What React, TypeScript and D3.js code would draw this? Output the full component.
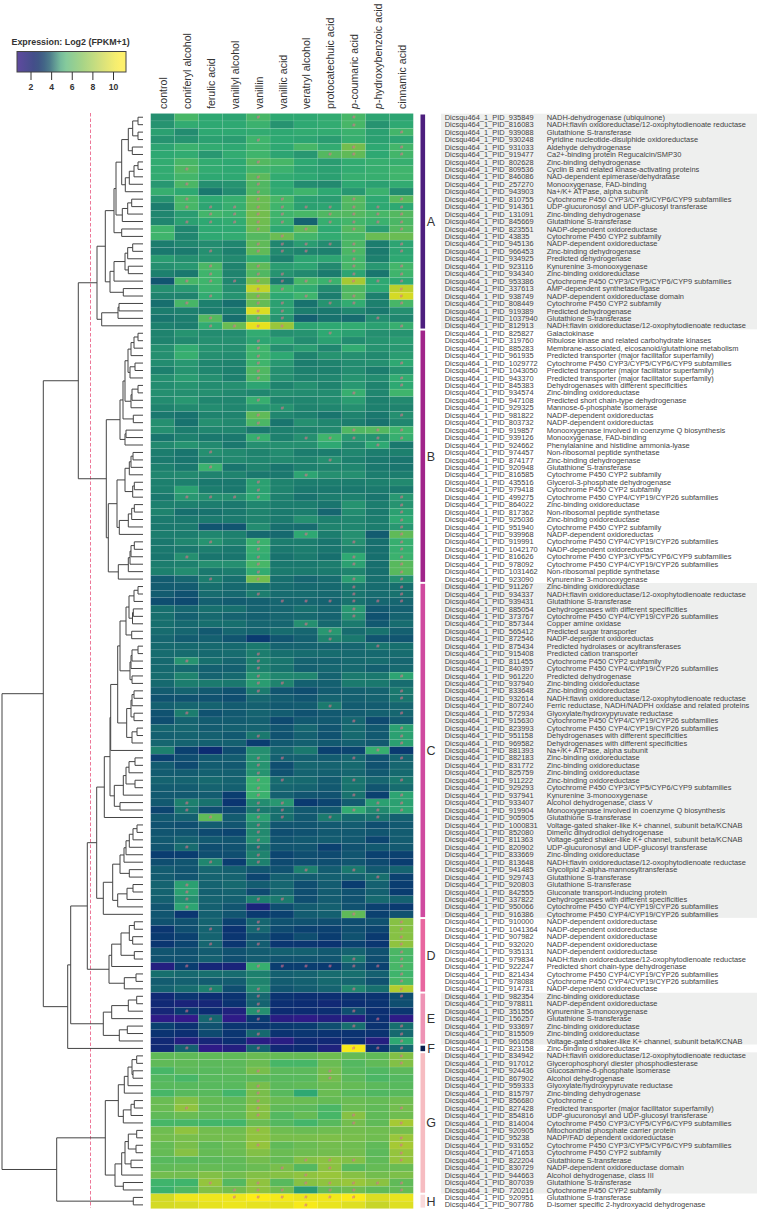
import React from "react";
import * as d3 from "d3";

const treatments = ["control", "coniferyl alcohol", "ferulic acid", "vanillyl alcohol", "vanillin", "vanillic acid", "veratryl alcohol", "protocatechuic acid", "p-coumaric acid", "p-hydroxybenzoic acid", "cinnamic acid"];
const groups = ["A", "B", "C", "D", "E", "F", "G", "H"];
const groupColors = ["#4d1f7e", "#a0248a", "#cf4a9f", "#e8669f", "#ee93b5", "#0b1f4f", "#f6bcc1", "#fadadb"];
const legendTicks = [2, 4, 6, 8, 10];

const geneIdsA = ["935849", "816083", "939088", "930248", "931033", "919477", "802628", "809536", "846086", "257270", "943903", "810755", "914361", "131091", "845669", "823551", "43835", "945136", "966453", "934925", "923116", "934340", "953386", "337613", "938749", "808449", "919389", "1037940", "812913"];
const geneIdsB = ["825827", "319760", "885283", "961935", "1029772", "1043050", "943370", "845383", "934574", "947108", "929325", "981822", "803732", "919857", "939126", "924662", "974457", "874177", "920948", "816585", "435516", "979418", "499275", "864022", "817362", "925036", "951940", "939968", "919991", "1042170", "816626", "978092", "1031462", "923090"];
const geneIdsC = ["911267", "934337", "939431", "885054", "373767", "857344", "565412", "872546", "875434", "915408", "811455", "840397", "961220", "937940", "833648", "932614", "807240", "572934", "915630", "823993", "951158", "969582", "881393", "882183", "831772", "825759", "911222", "929293", "937941", "933407", "919904", "905905", "1000831", "852080", "811363", "820902", "833669", "813648", "941485", "929743", "920803", "842555", "337822", "950066", "916386"];
const geneIdsD = ["910000", "1041364", "907982", "932020", "935131", "979834", "922247", "821434", "978088", "914731"];
const geneIdsE = ["982354", "978811", "351556", "156257", "933697", "815509", "961058"];
const geneIdsF = ["823158"];
const geneIdsG = ["834942", "917012", "924436", "867902", "959333", "815797", "856680", "827428", "854816", "814004", "920905", "95238", "931652", "471653", "822204", "830729", "944663", "807039", "720216"];
const geneIdsH = ["920951", "907786"];

const NADH = "NADH:flavin oxidoreductase/12-oxophytodienoate reductase";
const CYP3 = "Cytochrome P450 CYP3/CYP5/CYP6/CYP9 subfamilies";
const CYP4 = "Cytochrome P450 CYP4/CYP19/CYP26 subfamilies";
const CYP2 = "Cytochrome P450 CYP2 subfamily";
const ZBO = "Zinc-binding oxidoreductase";
const ZBD = "Zinc-binding dehydrogenase";
const GST = "Glutathione S-transferase";
const NADP = "NADP-dependent oxidoreductase";
const NADPS = "NADP-dependent oxidoreductas";
const UDP = "UDP-glucuronosyl and UDP-glucosyl transferase";
const DDS = "Dehydrogenases with different specificities";
const MFS = "Predicted transporter (major facilitator superfamily)";
const KCN = "Voltage-gated shaker-like K+ channel, subunit beta/KCNAB";

const geneNamesA = ["NADH-dehydrogenase (ubiquinone)", NADH, GST, "Pyridine nucleotide-disulphide oxidoreductase", "Aldehyde dehydrogenase", "Ca2+-binding protein Regucalcin/SMP30", ZBD, "Cyclin B and related kinase-activating proteins", "NAD-dependent epimerase/dehydratase", "Monooxygenase, FAD-binding", "Na+/K+ ATPase, alpha subunit", CYP3, UDP, ZBD, GST, NADP, CYP2, NADP, ZBD, "Predicted dehydrogenase", "Kynurenine 3-monooxygenase", ZBO, CYP3, "AMP-dependent synthetase/ligase", "NADP-dependent oxidoreductase domain", CYP2, "Predicted dehydrogenase", GST, NADH];
const geneNamesB = ["Galactokinase", "Ribulose kinase and related carbohydrate kinases", "Membrane-associated, eicosanoid/glutathione metabolism", MFS, CYP3, MFS, MFS, DDS, ZBO, "Predicted short chain-type dehydrogenase", "Mannose-6-phosphate isomerase", NADPS, NADPS, "Monooxygenase involved in coenzyme Q biosynthesis", "Monooxygenase, FAD-binding", "Phenylalanine and histidine ammonia-lyase", "Non-ribosomal peptide synthetase", ZBD, GST, CYP2, "Glycerol-3-phosphate dehydrogenase", CYP2, CYP4, ZBO, "Non-ribosomal peptide synthetase", ZBO, CYP2, NADPS, CYP4, NADPS, CYP3, CYP4, "Non-ribosomal peptide synthetase", "Kynurenine 3-monooxygenase"];
const geneNamesC = [ZBO, NADH, GST, DDS, CYP4, "Copper amine oxidase", "Predicted sugar transporter", NADPS, "Predicted hydrolases or acyltransferases", "Predicted cation transporter", CYP2, CYP4, "Predicted dehydrogenase", ZBO, ZBO, NADH, "Ferric reductase, NADH/NADPH oxidase and related proteins", "Glyoxylate/hydroxypyruvate reductase", CYP4, CYP4, DDS, DDS, "Na+/K+ ATPase, alpha subunit", ZBO, ZBO, ZBO, ZBO, CYP3, "Kynurenine 3-monooxygenase", "Alcohol dehydrogenase, class V", "Monooxygenase involved in coenzyme Q biosynthesis", GST, KCN, "Dimeric dihydrodiol dehydrogenase", KCN, UDP, ZBO, NADH, "Glycolipid 2-alpha-mannosyltransferase", GST, GST, "Gluconate transport-inducing protein", DDS, CYP4, CYP4];
const geneNamesD = [NADP, NADP, NADP, NADP, NADP, NADH, "Predicted short chain-type dehydrogenase", CYP4, CYP4, NADP];
const geneNamesE = [ZBO, NADP, "Kynurenine 3-monooxygenase", GST, ZBO, ZBO, KCN];
const geneNamesF = [ZBO];
const geneNamesG = [NADH, "Glycerophosphoryl diester phosphodiesterase", "Glucosamine-6-phosphate isomerase", "Alcohol dehydrogenase", "Glyoxylate/hydroxypyruvate reductase", ZBD, "Cytochrome c", MFS, UDP, CYP3, "Mitochondrial phosphate carrier protein", "NADP/FAD dependent oxidoreductase", CYP3, CYP2, GST, "NADP-dependent oxidoreductase domain", "Alcohol dehydrogenase, class III", GST, CYP2];
const geneNamesH = [GST, "D-isomer specific 2-hydroxyacid dehydrogenase"];

// log2(FPKM+1), one row per gene
const valuesA = [
  [5, 6.2, 5.6, 5.5, 6.2, 5.6, 5.6, 5.7, 6.2, 5.5, 5.5],
  [5.1, 5.7, 5.6, 5.6, 5.9, 5.1, 5.6, 5.7, 6.2, 5.1, 5.6],
  [5.4, 4.9, 5.6, 5.6, 5.7, 5.6, 5.7, 5.7, 5.9, 5.4, 6.1],
  [5.1, 5.1, 5.4, 5.3, 6, 5.6, 5.5, 5.3, 5.8, 5.4, 5.5],
  [5.5, 5.9, 5.7, 5.6, 6, 5.6, 6.2, 5.7, 7.2, 5.6, 6.1],
  [5.6, 5.7, 5.2, 5.7, 6, 5.5, 5.2, 6.5, 6.8, 5.6, 6.1],
  [5.7, 6.2, 5.7, 5.6, 6.5, 6.2, 5.6, 5.3, 5.7, 5.8, 5.8],
  [5.7, 6.4, 5.7, 5.6, 6.1, 5.9, 5.5, 5.4, 5.7, 5.8, 6],
  [5.7, 6.1, 5.6, 5.6, 6.7, 5.7, 5.6, 5.4, 5.8, 5.8, 6],
  [5.2, 6.3, 5, 5.1, 6.4, 5.6, 4.9, 4.8, 5.6, 5.4, 5.7],
  [5.8, 5.6, 4.2, 4.9, 6.4, 5.7, 6, 5.6, 5.2, 5.9, 4.9],
  [5.1, 6.2, 5.6, 5.8, 7, 6.2, 5.4, 5.3, 6.5, 5.6, 6.6],
  [4.4, 6.2, 5.5, 5.8, 7, 6, 5.4, 5.5, 6.4, 5.6, 5.6],
  [4.7, 5.3, 6.1, 5.9, 7.2, 6, 6.2, 6.4, 6.5, 6.2, 6.5],
  [4.7, 5.4, 5.6, 5.7, 7.1, 5.9, 3.5, 5.8, 6.1, 5.9, 6.3],
  [6, 4.7, 5.6, 5.6, 7, 5.6, 6.8, 5.6, 6.5, 5.3, 6.5],
  [6, 4.7, 5.6, 5.7, 6.5, 7, 6.1, 5.7, 6.2, 7, 7],
  [4.4, 4.7, 4.9, 4.7, 6.8, 4.7, 5.3, 4.9, 6.3, 4.4, 5.5],
  [4.2, 4.3, 5, 4.5, 6.8, 4.8, 4.6, 4.5, 6.3, 4.3, 5.5],
  [5.3, 5, 5.1, 4.8, 5.7, 4.5, 5.5, 5.5, 6.1, 4.5, 5.6],
  [5, 5.2, 6.3, 4.6, 6.8, 5.3, 5.5, 4.8, 6.2, 5.2, 6.1],
  [4.5, 4.2, 6, 4.6, 6.4, 5.1, 4.8, 4.3, 5.5, 4.1, 6],
  [3.1, 6.2, 6, 4.7, 7.3, 4.3, 6.2, 5.9, 8.3, 5.6, 5.6],
  [5, 5.2, 5.9, 5, 9, 6, 5.7, 4.8, 6.4, 5.6, 8.8],
  [4.6, 4.6, 5.7, 5.1, 7.2, 5.6, 6, 4.4, 6.5, 4.5, 9.4],
  [3.9, 6.2, 4.5, 3.9, 6.9, 5.4, 4, 5.1, 5.7, 4.5, 6.2],
  [4.4, 4.5, 4.4, 4.4, 9.6, 5.4, 4.4, 4.2, 4.7, 4.2, 5],
  [4.1, 4.4, 6.5, 3.9, 6.6, 5.1, 3.4, 4, 3.8, 4.9, 4.7],
  [4.5, 4.4, 5.7, 7, 10, 8, 5.5, 5.6, 5.7, 5.4, 5.8],
];
const valuesB = [
  [4.6, 5.1, 4.9, 4.9, 5.7, 5, 5.1, 5.6, 5.4, 5, 5.1],
  [4.6, 4.8, 5, 5, 5.5, 5.5, 4.9, 5.4, 4.9, 5.1, 5.3],
  [5, 5.7, 5.1, 5, 6, 5, 5.3, 4.7, 5.7, 5.1, 5.2],
  [5, 5.8, 5, 4.9, 6, 5.6, 4.6, 5.1, 5, 4.8, 5.3],
  [4.9, 5.2, 4.7, 4.6, 6, 5.2, 4.4, 4.6, 4.9, 5, 5.6],
  [4.5, 5.1, 4.7, 4.5, 6.4, 5, 4.5, 4.5, 4.9, 4.4, 5.1],
  [5, 5.3, 5, 4.5, 6.3, 5, 4.6, 4.7, 5.1, 4.9, 5.7],
  [4.9, 5.1, 4.9, 5, 5.5, 4.6, 5, 4.6, 5.2, 4.6, 5.6],
  [5, 5, 5, 4.8, 4.7, 5, 4.9, 4.9, 5.8, 4.7, 6],
  [4.9, 5.2, 4.7, 4.7, 5.8, 4.7, 4.7, 4.9, 5.3, 4.5, 4.8],
  [4.6, 4.8, 4.9, 4.7, 5.2, 5.1, 4.6, 4.7, 5, 4.5, 4.6],
  [4.2, 4, 4.6, 4.6, 6.8, 4.7, 4.5, 4.1, 4.6, 4.2, 5],
  [5, 4, 5, 4.8, 6.3, 4.1, 5, 4.7, 4.4, 4, 4.7],
  [5, 4.4, 4.7, 4.7, 4.2, 4.5, 4.6, 4.8, 6.4, 6.5, 6],
  [4.1, 4.5, 4.2, 4.2, 5.8, 4.5, 5, 6, 5.2, 5.1, 5.8],
  [4.8, 5.1, 4.8, 4.2, 5, 5, 5, 5.6, 4.8, 5.6, 4.2],
  [4.4, 4.1, 5, 4.8, 4.6, 4.9, 4.4, 4.4, 4.7, 4.4, 4.5],
  [4.3, 4.1, 4.6, 4.8, 4.7, 4.8, 4.6, 5, 4.5, 4.2, 4.1],
  [4.5, 4.2, 5.9, 4.1, 4.6, 4.1, 4.5, 4.6, 4.7, 4.2, 4.1],
  [4.7, 4.8, 4.6, 4.6, 4.2, 4.2, 5.5, 5, 5, 4.4, 4.4],
  [4.5, 4.5, 4.2, 4.2, 5.4, 4.6, 4.4, 4.4, 4.4, 4.5, 4.8],
  [4.5, 5.4, 4.4, 4.2, 5.4, 4.6, 4.2, 4.2, 4.2, 4.3, 4.3],
  [4.2, 5.2, 5, 5, 5.6, 4.5, 4, 4.4, 4.5, 4.1, 5.2],
  [4.5, 4.5, 4.4, 4.2, 4.7, 4.4, 4.4, 4.1, 5.1, 4.4, 5.1],
  [4.6, 3.9, 4, 4.2, 4.6, 4.3, 4.4, 3.6, 4.9, 4.3, 5.4],
  [4.3, 4.2, 4.3, 4.3, 4.6, 4.3, 5, 4.5, 4.7, 4.4, 5.6],
  [4.2, 4.3, 3.1, 3.1, 4.9, 3.9, 3.8, 4.6, 4.7, 4.4, 5.2],
  [4.4, 4.4, 4.7, 4.5, 3.7, 3.7, 5.6, 4.4, 5, 3.3, 6.8],
  [4.2, 4.7, 5.1, 4.6, 5.9, 4.4, 4.4, 4.1, 5, 3.9, 5.8],
  [4.2, 4.2, 4.4, 4.2, 5.8, 4.2, 4.4, 4.1, 4.6, 3.9, 5.8],
  [4.1, 5, 4.1, 4.1, 5.7, 4, 4.3, 3.9, 5.6, 3.9, 5.9],
  [4.4, 4.5, 5, 5, 6.2, 4.2, 4.2, 4.4, 5.4, 3.9, 6.6],
  [4.5, 4.9, 4.2, 4.4, 5.7, 4.3, 4.3, 4.3, 4.6, 3.9, 6.6],
  [3.3, 3.6, 4.4, 3.9, 7.2, 3.9, 3.6, 3.8, 5.3, 3.9, 5],
];
const valuesC = [
  [3.3, 3.3, 3.9, 3.7, 4, 3.8, 3.7, 3.7, 4.2, 3.8, 3.9],
  [3.3, 3, 3.8, 3.7, 4.4, 3.8, 3.8, 3.7, 4.1, 3.8, 4],
  [2.9, 2.8, 3.4, 3.3, 3.4, 3.6, 3.6, 3.5, 4, 3.6, 3.6],
  [3.9, 3.6, 3.9, 3.9, 3.5, 3.6, 3.9, 3.6, 5.2, 3.2, 3.4],
  [3.9, 3.4, 3.7, 3.5, 3.4, 3.6, 3.7, 3.5, 5, 3, 3.5],
  [3.9, 3.7, 3.9, 3.9, 3.6, 3.6, 5, 3.7, 4.3, 3.2, 3.8],
  [3.8, 3.6, 3.2, 3.6, 3.5, 3.8, 3.6, 5.2, 3.8, 4, 3.4],
  [3.6, 3.3, 3.4, 3.1, 2.4, 3.1, 3.4, 4.6, 4.2, 3.1, 3.1],
  [3.7, 3.7, 3.7, 3.7, 4.2, 3.5, 3.5, 3.5, 3.6, 4.1, 3.9],
  [3.8, 3.8, 3.7, 3.8, 4.4, 3.9, 3.8, 3.8, 3.7, 3.7, 3.8],
  [3.7, 5.1, 3.9, 3.6, 4.5, 4.1, 3.5, 3.5, 3.7, 3.8, 3.6],
  [3.7, 3.7, 3.4, 3.4, 4.5, 4, 3.4, 3.6, 3.7, 3.4, 3.7],
  [3.8, 4.6, 3.5, 3.7, 5.2, 4.7, 4.7, 3.5, 4.3, 4.2, 5.5],
  [3.7, 4.4, 4.3, 4.2, 5.3, 4.6, 3.4, 3.4, 4.3, 4.2, 3.8],
  [3.3, 3.5, 3.2, 3, 4.3, 3.1, 2.9, 3.3, 3.4, 3.5, 4.2],
  [3, 3, 3, 2.9, 3.6, 3.3, 3.1, 3.5, 3.4, 3.5, 4.1],
  [3.4, 3.6, 3.5, 3.3, 3.4, 3.2, 3.3, 4.3, 3.3, 3.3, 3.6],
  [3, 4.4, 3, 3.2, 3.5, 3.3, 3, 3.2, 3.3, 3.4, 3.6],
  [2.9, 3.5, 3.3, 3.3, 3.4, 2.8, 3.2, 3.2, 3.6, 2.8, 3.3],
  [3.6, 3.6, 3.3, 3.4, 3.5, 3.1, 3.6, 3.1, 3.7, 3.2, 5.4],
  [3.4, 3.5, 3.4, 3.2, 4.2, 3, 3.4, 3, 3.7, 3.2, 5.4],
  [3.6, 3.5, 3.4, 3.4, 2.5, 3.2, 3.4, 3.2, 3.4, 3.2, 5.4],
  [4.5, 2.6, 2, 2.9, 5, 3.6, 4.2, 2.6, 2.7, 5.8, 2.4],
  [2.6, 2.9, 3.2, 3.3, 5.1, 3.4, 3.4, 3.3, 3.6, 3, 3.5],
  [3.3, 2.8, 3.3, 3.2, 5.1, 2.9, 3.6, 3.5, 3.7, 3, 3.6],
  [3.3, 3.3, 3.4, 3.4, 5.1, 3, 3.5, 3.4, 3.6, 3.2, 3.7],
  [3.5, 3.5, 3.7, 3.5, 5.9, 3.8, 3.7, 3.3, 4.1, 3.6, 4.2],
  [3.3, 3.3, 3.5, 3.4, 5.9, 3.6, 3.5, 3.2, 4, 3.1, 3.8],
  [3.2, 3.2, 3.3, 2.5, 5.9, 3.4, 3.1, 3, 4, 2.6, 5.5],
  [3.2, 4.5, 4, 2.3, 4.9, 5.2, 2.4, 2.7, 3.3, 5.4, 5.4],
  [2.7, 4, 2.9, 2.8, 4.2, 3.9, 3.2, 3.2, 5.7, 4.8, 5.5],
  [3.2, 3.4, 6.8, 3.3, 5.4, 3.9, 3.2, 4.3, 3.7, 4, 3.4],
  [3, 2.9, 3.3, 3.1, 4.8, 3.1, 3.1, 3.2, 3.3, 2.9, 3.2],
  [3.1, 3.1, 2.8, 2.7, 4.8, 2.9, 3, 3.2, 3.2, 3.1, 3.3],
  [3.2, 3.4, 3.2, 3.1, 5, 3.1, 3.2, 3.3, 3.2, 2.7, 3.3],
  [3.1, 3.8, 2.9, 3, 4.1, 3.1, 3.1, 2.6, 3, 3.2, 3.2],
  [2.5, 2.5, 2.9, 2.9, 4.6, 2.7, 2.9, 2.8, 3.1, 2.6, 2.6],
  [2.9, 3.1, 4.7, 2.5, 4.5, 2.8, 2.9, 2.9, 3.1, 2.8, 2.5],
  [3.3, 3.1, 3.6, 3.4, 3.1, 3, 4.5, 3.3, 4.2, 3.2, 3.5],
  [3.3, 3.1, 3.5, 3.5, 2.7, 3.4, 3.3, 3.4, 3.4, 3.9, 2.6],
  [3.5, 5.4, 3.5, 3.7, 3.3, 3.6, 2.9, 3.3, 2.5, 3.4, 2.5],
  [3.5, 5.4, 3.4, 3.5, 2.8, 3.6, 2.9, 3.3, 3, 3.4, 2.5],
  [3.4, 5, 3.5, 3.4, 4.5, 4.3, 2.9, 3.3, 3, 3.7, 3.4],
  [3.1, 5.5, 3.4, 3.1, 1.7, 2.9, 3.3, 3.4, 3, 2.6, 2.4],
  [3.1, 2.3, 3.4, 3.1, 2.4, 2.6, 3.3, 3.4, 6.8, 2.6, 3],
];
const valuesD = [
  [3, 3, 3.5, 2.6, 3.6, 3, 3, 2.9, 2.9, 3, 7.6],
  [2.3, 2.9, 3.5, 2.2, 3.6, 2.8, 2.6, 2.6, 2.9, 2.7, 7.6],
  [2.4, 2.6, 3.5, 2.3, 3, 2.5, 2.9, 2.5, 3, 2.4, 7.6],
  [2.3, 2.7, 3.6, 2.3, 3.3, 2.3, 2.3, 2.2, 2.6, 2.3, 7.8],
  [3.1, 3, 3.3, 3, 3.3, 3.4, 3.4, 3.2, 3.5, 3, 6.3],
  [3, 3, 3.4, 2.9, 3.3, 3.1, 3.1, 3.1, 4.2, 2.9, 6.2],
  [1.5, 2.5, 1.8, 1.7, 5.8, 2.5, 2.5, 2.4, 3.2, 2.6, 6.2],
  [3.9, 3.7, 3.9, 3.8, 4.5, 3.4, 3.5, 3.8, 3.9, 3.4, 6],
  [3.3, 3.4, 3.3, 3.3, 4.6, 3.3, 3.4, 3.7, 3.6, 3, 6.2],
  [3.5, 3.8, 4.5, 2.9, 4.9, 3.1, 3.3, 3.5, 4.7, 3.9, 8.6],
];
const valuesE = [
  [1.9, 2.3, 2.1, 2.2, 3.6, 2.2, 2.1, 2.1, 2.2, 2.2, 2.9],
  [1.9, 1.7, 1.8, 2.2, 3.5, 2.1, 2, 1.9, 2.1, 2.2, 2.9],
  [1.8, 2.4, 2, 1.6, 5, 2, 2, 2.1, 2.9, 2.1, 2.3],
  [1.3, 1.2, 3.6, 1.3, 2.4, 1.4, 1.3, 1.5, 1.4, 2.1, 1.3],
  [2.6, 2.2, 3, 2.3, 2.3, 2.4, 2.5, 2.9, 3.9, 2.2, 3.9],
  [2.2, 2.1, 2.8, 2.3, 3.7, 2.2, 2.3, 2.2, 2.2, 2.2, 3.7],
  [1.9, 1.5, 1.8, 2.1, 1.4, 1.4, 1.9, 1.9, 2.1, 1.5, 5.6],
];
const valuesF = [[1.9, 3.4, 1.3, 1.5, 3.5, 1.9, 2, 1.6, 10.6, 2.2, 3.7]];
const valuesG = [
  [6.8, 6.8, 6.8, 6.8, 7, 6.9, 6.9, 7.1, 6.9, 6.8, 7.5],
  [6.8, 6.8, 6.7, 6.7, 7, 6.2, 6.2, 7, 6.5, 6.8, 7.5],
  [6.2, 6.7, 6.6, 6.7, 7.3, 6.7, 6.7, 7.2, 6.6, 6.4, 6.7],
  [6.5, 6.2, 6.6, 6.6, 6.7, 6.6, 6.6, 7.2, 6.7, 6.3, 6.5],
  [6.6, 6.6, 6.6, 6.6, 7.3, 6.7, 6.8, 7, 6.9, 6.7, 6.6],
  [6.2, 6.6, 6.6, 6.1, 7.3, 6.6, 5.6, 7, 6.6, 6.4, 6.6],
  [7, 7.5, 6.9, 6.8, 7.4, 7, 7, 6.9, 7, 6.9, 7.1],
  [7, 7.8, 6.8, 6.8, 7.6, 6.8, 6.7, 6.3, 7, 6.8, 7.2],
  [6.8, 7, 6.8, 6.8, 7.6, 6.5, 6.9, 6.2, 7.6, 6.8, 7.1],
  [6.2, 6.2, 6.1, 6.1, 7, 6.5, 6.1, 6.6, 7.2, 6.8, 8.3],
  [7.1, 7.8, 7.2, 7.1, 7.8, 7.1, 7, 7.1, 7.2, 7.1, 7.3],
  [7.2, 7.3, 7.2, 7.2, 7.8, 7.3, 7.3, 7.4, 7.3, 7.1, 8],
  [6.9, 7.3, 6.8, 7, 7.9, 6.8, 7, 7.2, 7.1, 6.8, 8.3],
  [6.9, 7.6, 6.9, 7, 7.5, 7, 7.1, 7.2, 7.2, 6.7, 7.9],
  [6.6, 6.6, 6.7, 6.8, 7.2, 6.9, 7.5, 7.7, 7.5, 6.8, 7.9],
  [6.8, 6.9, 6.9, 6.8, 7, 7.3, 6.5, 7.7, 6.6, 6.9, 7],
  [7.2, 7.2, 7.5, 7.2, 7.5, 7.6, 7.8, 8, 7.6, 7.2, 7.4],
  [6, 6, 7.9, 6.5, 7.8, 6.6, 7.6, 7.8, 8, 7.7, 6.8],
  [5.9, 6.4, 7.5, 7.2, 7.8, 7.2, 5.3, 6.9, 7.1, 6.8, 6.9],
];
const valuesH = [
  [9.4, 10.3, 10.3, 10.3, 10.8, 10.5, 10.2, 10.4, 10.7, 9.6, 10.1],
  [9.4, 9.5, 10, 10.2, 10, 10, 10.6, 10.1, 9.7, 9.1, 9.7],
];

// treatment columns carrying a "#" significance mark, per gene
const marksA = [[4, 8], [8], [10], [4], [8, 10], [7, 8, 10], [4], [1], [4], [1, 4], [4], [1, 4, 5, 8, 10], [1, 2, 3, 4, 5, 6, 7, 8, 9, 10], [2, 3, 4, 5, 7, 8, 9, 10], [1, 2, 3, 4, 5, 7, 8, 9, 10], [4, 6, 8, 10], [5], [4, 5, 6, 7, 8, 10], [2, 4, 5, 6, 8, 10], [8], [2, 4, 8, 10], [2, 4, 5, 8, 10], [1, 2, 3, 4, 5, 6, 7, 8, 9, 10], [4, 5, 10], [2, 4, 6, 8, 10], [1, 4, 5, 7, 8, 10], [4, 5], [2, 4, 5, 9], [2, 3, 4, 5, 10]];
const marksB = [[7], [4], [4], [4], [4, 10], [4], [4, 10], [10], [8], [4], [5], [4, 10], [4], [8, 9, 10], [4, 6, 7, 8, 9, 10], [9], [2], [7], [2], [6], [4], [4], [1, 2, 3, 4, 10], [10], [10], [10], [10], [6, 10], [2, 4, 8, 10], [4, 10], [1, 4, 8, 10], [4, 8, 10], [4, 10], [2, 4, 8, 10]];
const marksC = [[8, 10], [4, 8, 10], [5, 6, 7, 8, 9, 10], [8], [8], [6], [7], [7], [9], [4], [1, 4], [4], [4, 10], [4, 5], [4, 10], [10], [7], [1, 10], [8], [10], [4, 10], [10], [9], [4, 5, 8, 10], [4], [4], [4, 5, 8, 10], [4], [4, 8, 10], [1, 4, 5, 9, 10], [1, 4, 5, 8, 9, 10], [2, 4, 5, 7, 9], [4], [4], [4], [1, 4], [4], [2, 4], [6, 8], [9], [1], [1], [1, 4, 5], [1], [8]];
const marksD = [[4, 10], [2, 4, 10], [10], [2, 4, 10], [10], [8, 10], [1, 4, 5, 6, 7, 8, 9, 10], [10], [10], [2, 4, 8, 10]];
const marksE = [[4, 10], [4], [1, 4, 8], [2, 4, 9], [8, 10], [4, 10], [10]];
const marksF = [[1, 4, 8, 9, 10]];
const marksG = [[10], [10], [4, 7], [7], [4], [4], [4], [1, 4, 10], [4, 8], [8, 10], [4], [10], [4, 10], [10], [6, 7, 8, 10], [5, 7], [6], [2, 4, 6, 7, 8, 9, 10], [3, 4, 5, 7, 8, 10]];
const marksH = [[3, 4, 5, 6, 7, 8], [6]];

// dendrogram: [merge height, left, right], L is a leaf, leaves follow row order
type Tree = 0 | [number, Tree, Tree];
const L: Tree = 0;
const a1: Tree = [14.7, [10.3, [5, L, L], [5, L, L]], [10.7, L, L]];
const a2: Tree = [17.7, [13.7, [9, [5, L, L], L], L], L];
const a3: Tree = [20.7, [15.3, [11.3, L, L], L], L];
const a4: Tree = [21.3, L, L];
const a5: Tree = [33, [29, [18, [15.3, [10.3, L, L], L], [14.7, L, L]], L], [19.7, L, L]];
const a6: Tree = [41.3, [25, [24, L, L], L], L];
const treeA: Tree = [46, [37.7, [29, [27, [21.3, a1, a2], a3], a4], a5], a6];

const b1a: Tree = [15, [12, [9, [5, L, L], L], L], [13, [8, L, L], L]];
const b1b: Tree = [12, [11, [5, L, L], L], L];
const b1: Tree = [23, [20, [18, b1a, b1b], [9.7, L, L]], [18, [17, L, L], L]];
const bMid: Tree = [18, [13.7, [12, [10, L, L], L], L], [10.3, [8.7, L, L], L]];
const b3: Tree = [23.7, [14.7, [11.3, [8.7, L, L], L], L], L];
const b4: Tree = [24.7, [14.7, [13, [12, [8.7, L, L], L], L], L], L];
const treeB: Tree = [36.7, b1, [34.7, [26, bMid, b3], b4]];

const c1: Tree = [17, [14, [9, [5, L, L], L], [10.5, [9.7, L, L], L]], [11.3, L, L]];
const c2: Tree = [13, [12, [11, [5, L, L], L], L], [11, L, L]];
const c3: Tree = [16.3, [12, [11, [9, L, L], L], [9, L, L]], [11, [6, L, L], L]];
const cUp: Tree = [32.3, [25.3, [23, c1, c2], c3], L];
const cMid: Tree = [28.7, [19.7, [17, [14, [8, L, L], L], [8, L, L]], L], [23, L, L]];
const cLowTop: Tree = [23, [19, [17, [13.7, [10, [6, L, L], L], L], L], L], [13.7, L, L]];
const cLow: Tree = [39.7, [30.3, cLowTop, [25.3, [16, [10, L, L], L], L]], L];
const treeC: Tree = [46.3, [38.7, [33, cUp, cMid], L], cLow];

const treeD: Tree = [34, [31.3, [22, [13.7, [8.7, L, L], [10.3, L, L]], [8.7, L, L]], L], [18.7, [7, L, L], L]];
const treeE: Tree = [39.7, [31.3, [14.7, [6.3, L, L], L], L], [23.7, [15.7, L, L], L]];
const g1: Tree = [24.7, [18.7, [15, [11, [6.3, L, L], [10, L, L]], L], L], [19.7, [12, [8.7, L, L], L], L]];
const g2: Tree = [28, [21.3, [18, [14.7, [6.3, L, L], [7, L, L]], [12, L, L]], L], [19.7, L, L]];
const treeG: Tree = [37.7, g1, g2];
const treeH: Tree = [9.7, L, L];
const treeRoot: Tree = [141, [99.7, [64.7, treeA, treeB], [75.3, [72.3, [55.7, treeC, treeD], treeE], L]], [86.3, treeG, treeH]];

const rowValues = [...valuesA, ...valuesB, ...valuesC, ...valuesD, ...valuesE, ...valuesF, ...valuesG, ...valuesH];
const rowMarks = [...marksA, ...marksB, ...marksC, ...marksD, ...marksE, ...marksF, ...marksG, ...marksH];
const rowIds = [...geneIdsA, ...geneIdsB, ...geneIdsC, ...geneIdsD, ...geneIdsE, ...geneIdsF, ...geneIdsG, ...geneIdsH];
const rowNames = [...geneNamesA, ...geneNamesB, ...geneNamesC, ...geneNamesD, ...geneNamesE, ...geneNamesF, ...geneNamesG, ...geneNamesH];
const groupSizes = [valuesA, valuesB, valuesC, valuesD, valuesE, valuesF, valuesG, valuesH].map((v) => v.length);

const color = d3
  .scaleLinear<string>()
  .domain([1.2, 1.5, 2, 2.5, 3, 3.5, 4, 4.5, 5, 5.6, 6, 6.8, 7.5, 8.5, 9.5, 10.6])
  .range(["#33198a", "#241f80", "#0c2c72", "#0a3d70", "#105270", "#156370", "#18726e", "#1d806e", "#258f70", "#2ea872", "#3fb46c", "#60ba58", "#82c046", "#aecb30", "#d8dc24", "#f7ea1a"]);
// the legend bar is printed paler than the cells
const legendColor = d3
  .scaleLinear<string>()
  .domain([0.6, 2.5, 3.6, 5.1, 7, 9, 10.6, 11.3])
  .range(["#5f4a9f", "#3f4f86", "#456f88", "#7fc8a0", "#a6d487", "#d8e27c", "#fdf06c", "#fdf06c"]);

const x = d3.scaleBand<number>().domain(d3.range(treatments.length)).range([150.7, 413.3]);
const y = d3.scaleBand<number>().domain(d3.range(rowValues.length)).range([113.5, 1208.6]);
const treeX = d3.scaleLinear().domain([0, 141]).range([143, 2]);
const legendX = d3.scaleLinear().domain([2, 10]).range([31, 113.5]);

function treePath() {
  const p = d3.path();
  let leaf = 0;
  const walk = (t: Tree): { px: number; py: number } => {
    if (t === 0) {
      const i = leaf++;
      return { px: treeX(0), py: y(i)! + y.bandwidth() / 2 };
    }
    const a = walk(t[1]);
    const b = walk(t[2]);
    const hx = treeX(t[0]);
    p.moveTo(a.px, a.py);
    p.lineTo(hx, a.py);
    p.lineTo(hx, b.py);
    p.lineTo(b.px, b.py);
    return { px: hx, py: (a.py + b.py) / 2 };
  };
  walk(treeRoot);
  return p.toString();
}

const FONT = "'Liberation Sans', Arial, sans-serif";

export default function App() {
  let start = 0;
  const spans = groupSizes.map((n) => {
    const s = { first: start, last: start + n - 1 };
    start += n;
    return s;
  });
  const legendStops = d3.range(0, 1.001, 0.05);

  return (
    <svg width={759} height={1214} style={{ position: "absolute", left: 0, top: 0, fontFamily: FONT }}>
      <defs>
        <linearGradient id="legendGrad">
          {legendStops.map((t) => (
            <stop key={t} offset={t} stopColor={legendColor(0.6 + t * (11.3 - 0.6))} />
          ))}
        </linearGradient>
      </defs>

      {/* legend */}
      <text x={11.5} y={45} fontSize={8.9} fontWeight="bold" fill="#333">Expression: Log2 (FPKM+1)</text>
      <rect x={17} y={51.5} width={109} height={20.5} fill="url(#legendGrad)" stroke="#444" strokeWidth={1} />
      {legendTicks.map((t) => (
        <g key={t}>
          <line x1={legendX(t)} x2={legendX(t)} y1={72} y2={80} stroke="#333" strokeWidth={1} />
          <text x={legendX(t)} y={90} fontSize={8.6} fontWeight="bold" fill="#333" textAnchor="middle">{t}</text>
        </g>
      ))}

      {/* dendrogram */}
      <line x1={90.5} x2={90.5} y1={113} y2={1208} stroke="#e8557f" strokeWidth={0.8} strokeDasharray="3.5 2" />
      <path d={treePath()} fill="none" stroke="#444" strokeWidth={1} />

      {/* column labels */}
      {treatments.map((name, i) => {
        const italic = name.startsWith("p-");
        return (
          <text key={name} transform={`translate(${x(i)! + x.bandwidth() / 2 + 0.5},109) rotate(-90)`} fontSize={10.6} fill="#333" dominantBaseline="central">
            {italic ? <><tspan fontStyle="italic">p</tspan>{name.slice(1)}</> : name}
          </text>
        );
      })}

      {/* heatmap */}
      {rowValues.map((vals, r) =>
        vals.map((v, c) => (
          <rect key={`${r}-${c}`} x={x(c)} y={y(r)} width={x.bandwidth()} height={y.bandwidth()} fill={color(v)} stroke="#ffffff" strokeOpacity={0.14} strokeWidth={0.5} />
        ))
      )}
      {rowMarks.map((cols, r) =>
        cols.map((c) => (
          <text key={`${r}-${c}`} x={x(c)! + x.bandwidth() / 2} y={y(r)! + y.bandwidth() / 2 + 2} fontSize={5.5} fill="#d9708f" fillOpacity={0.9} textAnchor="middle">#</text>
        ))
      )}

      {/* gene group bands and bars */}
      {spans.map((s, i) =>
        i % 2 === 0 ? (
          <rect key={`band${i}`} x={441} y={y(s.first)! + 0.2} width={316} height={(s.last - s.first + 1) * y.bandwidth() - 0.4} fill="#eeefee" />
        ) : null
      )}
      {spans.map((s, i) => (
        <g key={groups[i]}>
          <rect x={420.5} y={y(s.first)! + 1} width={4.6} height={(s.last - s.first + 1) * y.bandwidth() - 2} fill={groupColors[i]} />
          <text x={431} y={y(s.first)! + ((s.last - s.first + 1) * y.bandwidth()) / 2 + 4.5} fontSize={12.5} fill="#333" textAnchor="middle">{groups[i]}</text>
        </g>
      ))}

      {/* gene labels */}
      {rowIds.map((id, r) => (
        <g key={id + r} fontSize={7.45} fill="#444">
          <text x={444.7} y={y(r)! + y.bandwidth() / 2 + 2.6}>Dicsqu464_1_PID_{id}</text>
          <text x={546.7} y={y(r)! + y.bandwidth() / 2 + 2.6}>{rowNames[r]}</text>
        </g>
      ))}
    </svg>
  );
}
